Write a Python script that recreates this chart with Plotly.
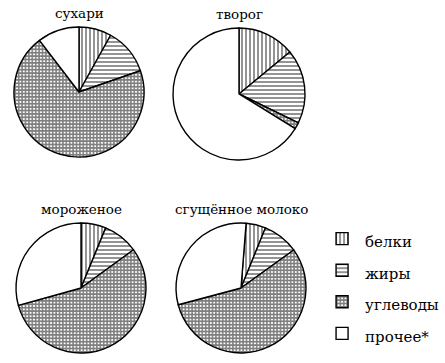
import plotly.graph_objects as go

categories = ["белки", "жиры", "углеводы", "прочее*"]
titles = ["сухари", "творог", "мороженое", "сгущённое молоко"]
sukhari = [8.1, 11.6, 69.9, 10.4]
tvorog = [14.0, 18.2, 1.6, 66.2]
morozhenoe = [6.2, 8.8, 55.7, 29.3]
sgushch = [4.9, 8.9, 55.8, 30.4]
series = [sukhari, tvorog, morozhenoe, sgushch]

shapes = ["|", "-", "+", ""]
rotations = [0, 0, 0, 4.5]

SERIF = "DejaVu Serif"
W, H = 445, 363
centres = [(79, 92, 65), (239, 94, 66), (81, 288, 65), (241, 288, 65)]

legend_labels = ["<span style='font-size:15px'>%s</span>" % c for c in categories]

fig = go.Figure()
for i, (vals, (cx, cy, r)) in enumerate(zip(series, centres)):
    fig.add_trace(go.Pie(
        labels=legend_labels,
        values=vals,
        sort=False,
        direction="clockwise",
        rotation=rotations[i],
        textinfo="none",
        hoverinfo="label+percent",
        showlegend=(i == 0),
        domain=dict(x=[(cx - r) / W, (cx + r) / W],
                    y=[1 - (cy + r) / H, 1 - (cy - r) / H]),
        marker=dict(
            colors=["white"] * 4,
            line=dict(color="black", width=1.4),
            pattern=dict(shape=shapes, fgcolor="black", bgcolor="white",
                         fillmode="overlay", size=[4, 4, 3.4, 4],
                         solidity=[0.42, 0.42, 0.7, 0.3]),
        ),
    ))
    fig.add_annotation(text=titles[i], x=cx / W, y=1 - (cy - r - 14) / H,
                       xref="paper", yref="paper", showarrow=False,
                       xanchor="center", yanchor="middle",
                       font=dict(family=SERIF, size=13.5, color="black"))

fig.update_layout(
    width=W, height=H,
    margin=dict(l=0, r=0, t=0, b=0, autoexpand=False),
    paper_bgcolor="white", plot_bgcolor="white",
    legend=dict(x=0.717, y=0.40, xanchor="left", yanchor="top",
                font=dict(family=SERIF, size=22, color="black"),
                itemwidth=36,
                traceorder="normal", bgcolor="rgba(0,0,0,0)"),
)
fig.write_html("out.html", config={"displayModeBar": False},
               post_script="document.body.style.margin='0';")
